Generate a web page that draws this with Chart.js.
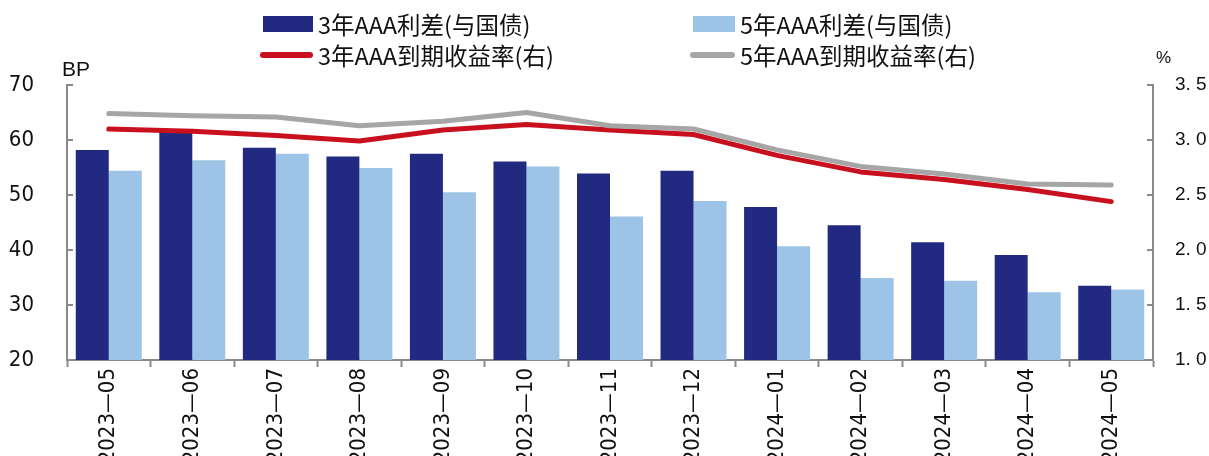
<!DOCTYPE html>
<html>
<head>
<meta charset="utf-8">
<script src="https://cdn.jsdelivr.net/npm/chart.js@4/dist/chart.umd.min.js"></script>
<style>
  html, body { margin: 0; padding: 0; background: #fff; }
  #wrap { position: relative; width: 1209px; height: 456px; overflow: hidden; }
  canvas { position: absolute; left: 0; top: 0; }
  .lg { position: absolute; display: flex; align-items: center; white-space: nowrap;
        font-family: "Noto Sans CJK SC", "Noto Sans", sans-serif; font-size: 23.5px; color: #111; }
  .sw { display: inline-block; margin-right: 5px; }
  .unit { position: absolute; font-family: "Liberation Sans Narrow", "Liberation Sans", Arial, sans-serif; color: #111; }
</style>
</head>
<body>
<div id="wrap">
  <canvas id="c" width="1209" height="456"></canvas>
  <div class="unit" style="left:62px; top:57px; font-size:21px;">BP</div>
  <div class="unit" style="left:1156px; top:48px; font-size:17px;">%</div>
</div>
<script>
// Monthly categories
const months = ['2023—05', '2023—06', '2023—07', '2023—08', '2023—09', '2023—10', '2023—11',
                '2023—12', '2024—01', '2024—02', '2024—03', '2024—04', '2024—05'];

// Credit spreads over government bonds (BP, left axis)
const spread3y = [58.2, 61.5, 58.6, 57.0, 57.5, 56.1, 53.9, 54.4, 47.8, 44.5, 41.4, 39.1, 33.5];
const spread5y = [54.4, 56.3, 57.5, 54.9, 50.5, 55.2, 46.1, 48.9, 40.7, 34.9, 34.4, 32.3, 32.8];

// Yields to maturity (%, right axis)
const ytm3y = [3.10, 3.08, 3.04, 2.99, 3.09, 3.14, 3.09, 3.05, 2.86, 2.71, 2.64, 2.55, 2.44];
const ytm5y = [3.24, 3.22, 3.21, 3.13, 3.17, 3.25, 3.13, 3.10, 2.91, 2.76, 2.69, 2.60, 2.59];

const seriesNames = ['3年AAA利差(与国债)', '5年AAA利差(与国债)', '3年AAA到期收益率(右)', '5年AAA到期收益率(右)'];

const C_DARK = '#212a80', C_LIGHT = '#9dc3e6', C_RED = '#c8101e', C_GRAY = '#a6a6a6', C_AXIS = '#8a8a8a';
const NARROW = '"Liberation Sans Narrow", "Arial Narrow", "DejaVu Sans Condensed", "Liberation Sans", sans-serif';

// Short inward tick marks on both value axes
const innerTicks = {
  id: 'innerTicks',
  afterDraw(chart) {
    const ctx = chart.ctx;
    ctx.save();
    ctx.strokeStyle = C_AXIS;
    ctx.lineWidth = 2;
    const yl = chart.scales.y, yr = chart.scales.y2;
    yl.ticks.forEach(t => {
      const p = Math.round(yl.getPixelForValue(t.value));
      ctx.beginPath(); ctx.moveTo(yl.right, p); ctx.lineTo(yl.right + 6, p); ctx.stroke();
    });
    yr.ticks.forEach(t => {
      const p = Math.round(yr.getPixelForValue(t.value));
      ctx.beginPath(); ctx.moveTo(yr.left - 6, p); ctx.lineTo(yr.left, p); ctx.stroke();
    });
    ctx.restore();
  }
};

new Chart(document.getElementById('c'), {
  data: {
    labels: months,
    datasets: [
      { type: 'bar', label: seriesNames[0], data: spread3y, backgroundColor: C_DARK,
        yAxisID: 'y', order: 2, barPercentage: 1, categoryPercentage: 0.79 },
      { type: 'bar', label: seriesNames[1], data: spread5y, backgroundColor: C_LIGHT,
        yAxisID: 'y', order: 2, barPercentage: 1, categoryPercentage: 0.79 },
      { type: 'line', label: seriesNames[2], data: ytm3y, borderColor: C_RED, borderWidth: 5,
        pointRadius: 0, tension: 0, borderCapStyle: 'round', borderJoinStyle: 'round',
        yAxisID: 'y2', order: 1 },
      { type: 'line', label: seriesNames[3], data: ytm5y, borderColor: C_GRAY, borderWidth: 5,
        pointRadius: 0, tension: 0, borderCapStyle: 'round', borderJoinStyle: 'round',
        yAxisID: 'y2', order: 0 }
    ]
  },
  options: {
    responsive: false,
    animation: false,
    devicePixelRatio: 1,
    layout: { padding: { top: 85, left: 0, right: 0, bottom: 0 } },
    plugins: { legend: { display: false }, tooltip: { enabled: false } },
    scales: {
      x: {
        offset: true,
        grid: { display: true, offset: true, drawOnChartArea: false, drawTicks: true,
                tickLength: 7, tickWidth: 2, tickColor: C_AXIS },
        border: { display: true, color: C_AXIS, width: 2 },
        ticks: { minRotation: 90, maxRotation: 90, autoSkip: false, padding: 1,
                 color: '#111', font: { family: NARROW, size: 22 } },
        afterFit(s) { s.height = 96; }
      },
      y: {
        position: 'left', min: 20, max: 70,
        grid: { drawOnChartArea: false, drawTicks: false },
        border: { display: true, color: C_AXIS, width: 2 },
        ticks: { stepSize: 10, padding: 33, color: '#111', font: { family: NARROW, size: 22 } },
        afterFit(s) { s.width = 67; }
      },
      y2: {
        position: 'right', min: 1.0, max: 3.5,
        grid: { drawOnChartArea: false, drawTicks: false },
        border: { display: true, color: C_AXIS, width: 2 },
        ticks: { stepSize: 0.5, padding: 22, color: '#111',
                 font: { family: '"Liberation Sans", Arial, sans-serif', size: 19 },
                 callback: v => v.toFixed(1).replace('.', '. ') },
        afterFit(s) { s.width = 56; }
      }
    }
  },
  plugins: [innerTicks]
});

// Legend: two rows, two columns
const legendItems = [
  { name: seriesNames[0], kind: 'box', color: C_DARK, x: 263, y: 24 },
  { name: seriesNames[1], kind: 'box', color: C_LIGHT, x: 693, y: 24 },
  { name: seriesNames[2], kind: 'line', color: C_RED, x: 260, y: 55 },
  { name: seriesNames[3], kind: 'line', color: C_GRAY, x: 690, y: 55 }
];
const wrap = document.getElementById('wrap');
legendItems.forEach(it => {
  const d = document.createElement('div');
  d.className = 'lg';
  d.style.left = it.x + 'px';
  d.style.top = (it.y - 16) + 'px';
  d.style.height = '32px';
  const sw = document.createElement('span');
  sw.className = 'sw';
  if (it.kind === 'box') {
    sw.style.width = (it.x < 500 ? 50 : 42) + 'px';
    sw.style.height = '16px';
    sw.style.background = it.color;
  } else {
    sw.style.width = (it.x < 500 ? 53 : 45) + 'px';
    sw.style.height = '6px';
    sw.style.borderRadius = '3px';
    sw.style.background = it.color;
  }
  d.appendChild(sw);
  const t = document.createElement('span');
  t.textContent = it.name;
  d.appendChild(t);
  wrap.appendChild(d);
});
</script>
</body>
</html>
